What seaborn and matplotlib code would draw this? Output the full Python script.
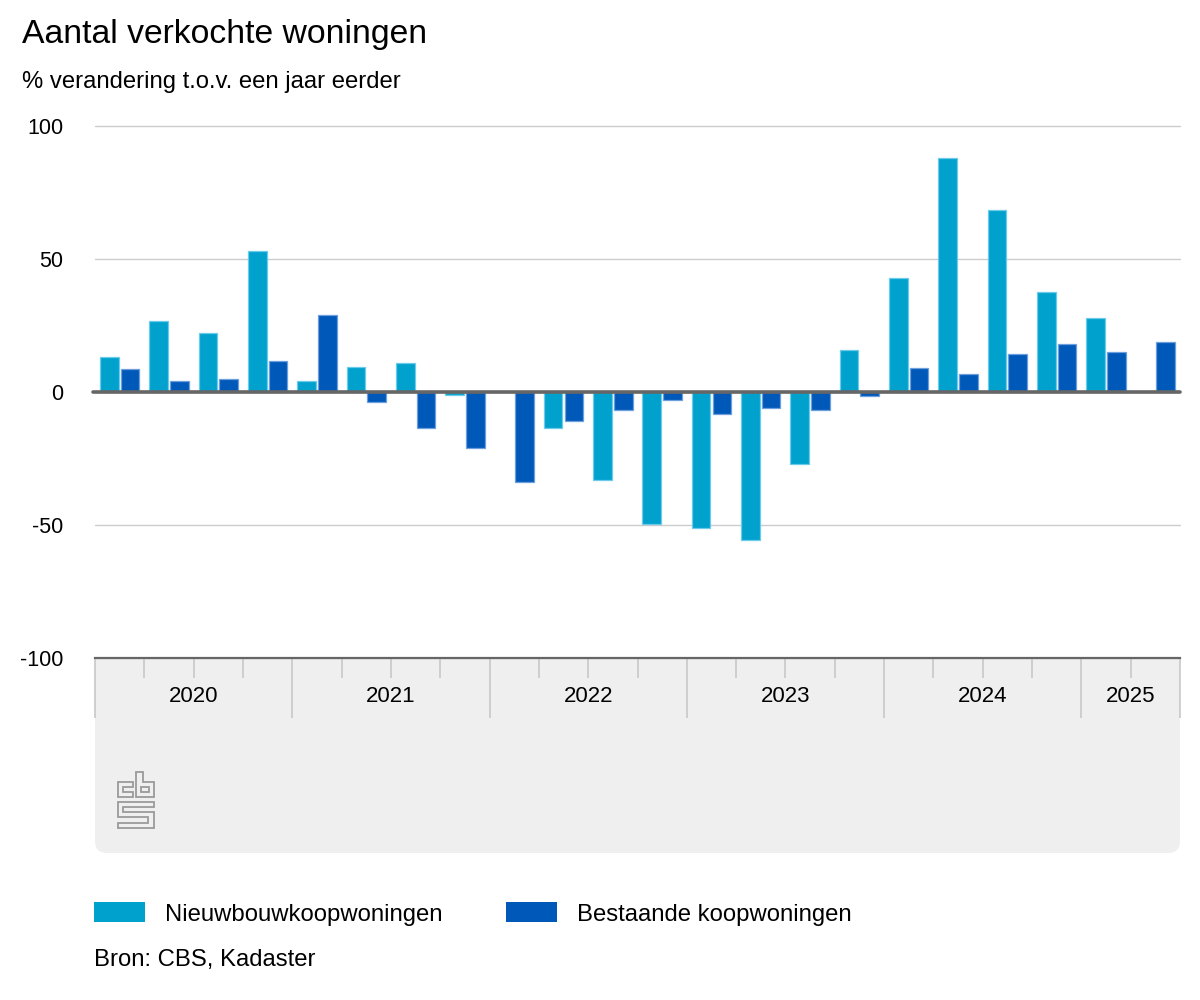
import numpy as np
import pandas as pd
import matplotlib.pyplot as plt
import matplotlib.transforms as mtransforms
from matplotlib.patches import FancyBboxPatch, Patch, Polygon
import seaborn as sns

# =========================
# DATA
# =========================

jaren = [2020, 2021, 2022, 2023, 2024, 2025]

kwartalen = [
    "2020 K1", "2020 K2", "2020 K3", "2020 K4",
    "2021 K1", "2021 K2", "2021 K3", "2021 K4",
    "2022 K1", "2022 K2", "2022 K3", "2022 K4",
    "2023 K1", "2023 K2", "2023 K3", "2023 K4",
    "2024 K1", "2024 K2", "2024 K3", "2024 K4",
    "2025 K1", "2025 K2",
]

# % verandering t.o.v. een jaar eerder
nieuwbouw = [13.0, 26.6, 22.0, 53.0, 4.0, 9.3, 10.8, -1.0,
             np.nan, -13.7, -33.2, -49.8, -51.3, -55.8, -27.2, 15.9,
             43.0, 88.1, 68.6, 37.7, 28.0, np.nan]

bestaand = [8.5, 4.0, 4.8, 11.5, 29.0, -3.9, -13.7, -21.2,
            -34.0, -10.8, -6.9, -3.1, -8.4, -6.1, -6.9, -1.6,
            9.2, 6.9, 14.4, 18.2, 15.2, 18.9]

reeksen = ["Nieuwbouwkoopwoningen", "Bestaande koopwoningen"]
kleuren = ["#00a1cd", "#0058b8"]
randkleuren = ["#6ccbea", "#6d9fdf"]

yticks = [-100, -50, 0, 50, 100]

df = pd.DataFrame({
    "kwartaal": kwartalen * 2,
    "reeks": [reeksen[0]] * len(kwartalen) + [reeksen[1]] * len(kwartalen),
    "waarde": nieuwbouw + bestaand,
})

# =========================
# FIGURE
# =========================

sns.set_style("white")
plt.rcParams["font.family"] = ["Liberation Sans", "DejaVu Sans"]
plt.rcParams["text.color"] = "black"
plt.rcParams["xtick.color"] = "black"
plt.rcParams["ytick.color"] = "black"

fig = plt.figure(figsize=(12, 10), dpi=100)
ax = fig.add_axes([95 / 1200, 1 - 658 / 1000, 1085 / 1200, 532 / 1000])

# grey panel under the axis (top part hidden behind the axes)
panel = FancyBboxPatch(
    (0.95, 1.47), 10.85, 2.6,
    boxstyle="round,pad=0,rounding_size=0.12",
    transform=fig.dpi_scale_trans,
    facecolor="#efefef", edgecolor="none", zorder=-1,
)
fig.add_artist(panel)

sns.barplot(
    data=df, x="kwartaal", y="waarde", hue="reeks",
    order=kwartalen, hue_order=reeksen, palette=kleuren, saturation=1,
    width=0.84, gap=0.1, errorbar=None, ax=ax, zorder=2,
)

for bars, rand in zip(ax.containers, randkleuren):
    for bar in bars:
        bar.set_edgecolor(rand)
        bar.set_linewidth(0.9)

if ax.get_legend() is not None:
    ax.get_legend().remove()

ax.set_ylim(-100, 100)
ax.set_xlim(-0.5, len(kwartalen) - 0.5)
ax.set_xlabel("")
ax.set_ylabel("")

# y axis
ax.set_yticks(yticks)
ax.set_yticklabels([str(v) for v in yticks])
ax.tick_params(axis="y", length=0, pad=23, labelsize=15.5, labelcolor="black")
ax.grid(axis="y", color="#cccccc", linewidth=1)
ax.grid(axis="x", visible=False)
for line in ax.get_ygridlines():
    line.set_clip_on(False)

ax.axhline(0, xmin=-0.002, color="#666666", linewidth=2.6, zorder=3,
           clip_on=False)

for side in ["top", "right", "left"]:
    ax.spines[side].set_visible(False)
ax.spines["bottom"].set_color("#666666")
ax.spines["bottom"].set_linewidth(1.6)

# x axis: year boundaries long, quarter boundaries short
jaar_van = [k[:4] for k in kwartalen]
n = len(kwartalen)
major = [i - 0.5 for i in range(n + 1)
         if i == 0 or i == n or jaar_van[i] != jaar_van[i - 1]]
minor = [i - 0.5 for i in range(n + 1) if (i - 0.5) not in major]

ax.set_xticks(major)
ax.set_xticks(minor, minor=True)
ax.tick_params(axis="x", which="major", bottom=True, length=43.2, width=1.2,
               color="#c8c8c8", labelbottom=False)
ax.tick_params(axis="x", which="minor", bottom=True, length=14.4, width=1.2,
               color="#c8c8c8", labelbottom=False)

trans = mtransforms.blended_transform_factory(ax.transData, ax.transAxes)
for jaar in jaren:
    idx = [i for i, j in enumerate(jaar_van) if j == str(jaar)]
    ax.text(np.mean(idx), -39 / 532, str(jaar), transform=trans,
            ha="center", va="center", fontsize=16, color="black")

# =========================
# CBS LOGO
# =========================

logo_delen = [
    [(133.3, 781.7), (118, 781.7), (118, 797.3), (133.3, 797.3),
     (133.3, 792.3), (122.7, 792.3), (122.7, 786.7), (133.3, 786.7)],
    [(136, 772.3), (143.3, 772.3), (143.3, 781.7), (154, 781.7),
     (154, 797.3), (136, 797.3)],
    [(141.3, 786.7), (149.3, 786.7), (149.3, 792.3), (141.3, 792.3)],
    [(154, 802.3), (118, 802.3), (118, 816.7), (148.3, 816.7),
     (148.3, 823.3), (118, 823.3), (118, 828.3), (154, 828.3),
     (154, 811.7), (123.3, 811.7), (123.3, 807.3), (154, 807.3)],
]
for deel in logo_delen:
    pts = [(x / 100, (1000 - y) / 100) for x, y in deel]
    fig.add_artist(Polygon(pts, closed=True, fill=False, edgecolor="#9a9a9a",
                           linewidth=1.3, transform=fig.dpi_scale_trans))

# =========================
# TITLES, LEGEND, SOURCE
# =========================

fig.text(22 / 1200, 1 - 35 / 1000, "Aantal verkochte woningen",
         fontsize=24.3, ha="left", va="center", color="black")
fig.text(22 / 1200, 1 - 82 / 1000, "% verandering t.o.v. een jaar eerder",
         fontsize=17.2, ha="left", va="center", color="black")

handles = [Patch(facecolor=c, edgecolor="none") for c in kleuren]
leg = fig.legend(
    handles, reeksen,
    loc="center left", bbox_to_anchor=(94 / 1200, 1 - 914 / 1000),
    ncol=2, frameon=False, fontsize=17.2,
    handlelength=2.13, handleheight=0.92, handletextpad=0.84,
    columnspacing=2.68, borderpad=0, borderaxespad=0,
)
for t in leg.get_texts():
    t.set_color("black")

fig.text(94 / 1200, 1 - 960 / 1000, "Bron: CBS, Kadaster",
         fontsize=17.2, ha="left", va="center", color="black")

fig.savefig("out.png", dpi=100)
